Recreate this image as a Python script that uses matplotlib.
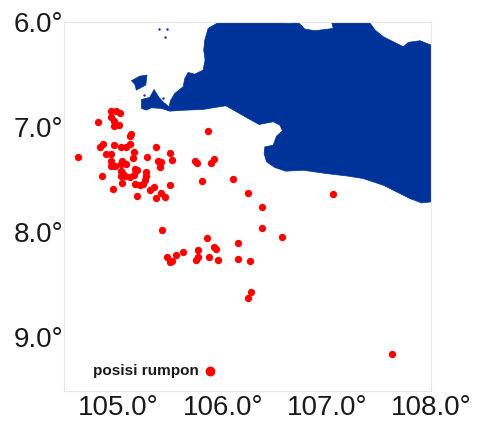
import matplotlib
matplotlib.use('Agg')
import matplotlib.pyplot as plt

plt.rcParams['font.family'] = ['Liberation Sans', 'DejaVu Sans']

#rumpon positions (lon, lat south)
rumpon_lon = [104.923, 104.978, 105.010, 104.930, 104.955, 104.955, 105.004, 104.802, 105.122, 105.112,
              104.955, 104.850, 104.824, 105.026, 105.074, 105.106, 104.875, 104.923, 105.145, 105.138,
              105.276, 105.356, 105.497, 105.516, 104.930, 104.930, 104.962, 105.032, 105.026, 105.074,
              105.379, 105.411, 105.395, 105.154, 105.180, 105.266, 104.843, 105.020, 105.042, 105.020,
              105.058, 105.106, 105.145, 105.260, 105.250, 105.036, 105.154, 105.202, 105.234, 104.946,
              105.305, 105.337, 105.497, 105.177, 105.356, 105.407, 105.449, 105.731, 105.750, 105.802,
              105.859, 104.609, 105.913, 105.891, 106.099, 106.244, 106.375, 107.061, 105.417, 105.849,
              106.144, 106.375, 106.564, 105.619, 105.548, 105.468, 105.490, 105.516, 105.763, 105.763,
              105.740, 105.872, 105.920, 105.933, 105.952, 106.144, 106.263, 106.272, 106.244, 107.625]
rumpon_lat = [6.848, 6.848, 6.870, 6.908, 6.940, 6.991, 6.978, 6.950, 7.061, 7.086,
              7.172, 7.165, 7.191, 7.191, 7.191, 7.156, 7.258, 7.258, 7.235, 7.292,
              7.283, 7.191, 7.242, 7.308, 7.321, 7.372, 7.372, 7.321, 7.353, 7.353,
              7.324, 7.334, 7.378, 7.394, 7.410, 7.426, 7.464, 7.419, 7.442, 7.467,
              7.467, 7.473, 7.458, 7.467, 7.499, 7.531, 7.543, 7.553, 7.537, 7.584,
              7.594, 7.569, 7.553, 7.654, 7.673, 7.626, 7.661, 7.318, 7.340, 7.511,
              7.038, 7.280, 7.299, 7.343, 7.492, 7.622, 7.756, 7.632, 7.975, 8.054,
              8.105, 7.956, 8.044, 8.184, 8.216, 8.235, 8.283, 8.276, 8.168, 8.235,
              8.267, 8.235, 8.143, 8.159, 8.267, 8.257, 8.276, 8.568, 8.629, 9.162]

#Java coastline
java_lon = [105.965, 105.859, 105.827, 105.817, 105.830, 105.811, 105.731, 105.667, 105.635, 105.619,
            105.538, 105.497, 105.484, 105.426, 105.388, 105.340, 105.298, 105.218, 105.218, 105.266,
            105.314, 105.410, 105.490, 105.651, 105.811, 105.907, 106.029, 106.131, 106.244, 106.349,
            106.484, 106.548, 106.574, 106.516, 106.484, 106.404, 106.397, 106.420, 106.500, 106.603,
            106.772, 106.997, 107.189, 107.349, 107.542, 107.670, 107.798, 107.910, 108.0, 108.0,
            107.894, 107.782, 107.734, 107.638, 107.542, 107.462, 107.407, 107.045, 107.061, 106.885,
            106.788, 106.724, 106.644, 106.548, 106.484]
java_lat = [6.0, 6.061, 6.172, 6.267, 6.362, 6.457, 6.496, 6.480, 6.537, 6.616,
            6.680, 6.749, 6.807, 6.759, 6.718, 6.642, 6.718, 6.737, 6.822, 6.838,
            6.816, 6.822, 6.848, 6.838, 6.832, 6.816, 6.797, 6.854, 6.918, 6.975,
            6.949, 6.981, 7.035, 7.086, 7.172, 7.188, 7.251, 7.330, 7.384, 7.419,
            7.410, 7.442, 7.464, 7.489, 7.553, 7.616, 7.680, 7.721, 7.711, 6.219,
            6.178, 6.194, 6.235, 6.188, 6.140, 6.076, 6.0, 6.0, 6.061, 6.083,
            6.067, 6.003, 6.013, 6.007, 6.0]

#Panaitan island and small islets
island_lon = [105.122, 105.202, 105.272, 105.260, 105.170, 105.154]
island_lat = [6.559, 6.515, 6.505, 6.600, 6.648, 6.591]
islet_lon = [105.388, 105.468, 105.445, 105.244, 105.426]
islet_lat = [6.070, 6.070, 6.140, 6.692, 6.724]

x_ticks = [105, 106, 107, 108]
y_ticks = [6, 7, 8, 9]

land_color = '#003399'

fig = plt.figure(figsize=(4.78, 4.21), dpi=100)
ax = fig.add_axes([63.5/478, 1-391/421, (431-63.5)/478, (391-22)/421])

ax.fill(java_lon, java_lat, color=land_color, lw=0.5)
ax.fill(island_lon, island_lat, color=land_color, lw=0.5)
ax.scatter(islet_lon, islet_lat, s=3, color=land_color, lw=0)
ax.scatter(rumpon_lon, rumpon_lat, s=28, color='#fe0000', lw=0, zorder=3)

ax.set_xlim(104.47, 108.0)
ax.set_ylim(9.51, 6.0)
ax.set_xticks(x_ticks)
ax.set_yticks(y_ticks)
ax.set_xticklabels([f'{t:.1f}°' for t in x_ticks], fontsize=20)
ax.set_yticklabels([f'{t:.1f}°' for t in y_ticks], fontsize=20)
ax.tick_params(axis='x', length=0, pad=3, colors='#1a1a1a')
ax.tick_params(axis='y', length=0, pad=0, colors='#1a1a1a')
for spine in ax.spines.values():
    spine.set_color('#e6e6e6')
    spine.set_linewidth(0.8)

#legend, marker drawn after the label
ax.scatter(105.875, 9.318, s=50, color='#fe0000', lw=0, zorder=3)
ax.text(105.77, 9.318, 'posisi rumpon', fontsize=11, fontweight='bold', color='#1a1a1a',
        ha='right', va='center')

plt.savefig('out.png', dpi=100)
